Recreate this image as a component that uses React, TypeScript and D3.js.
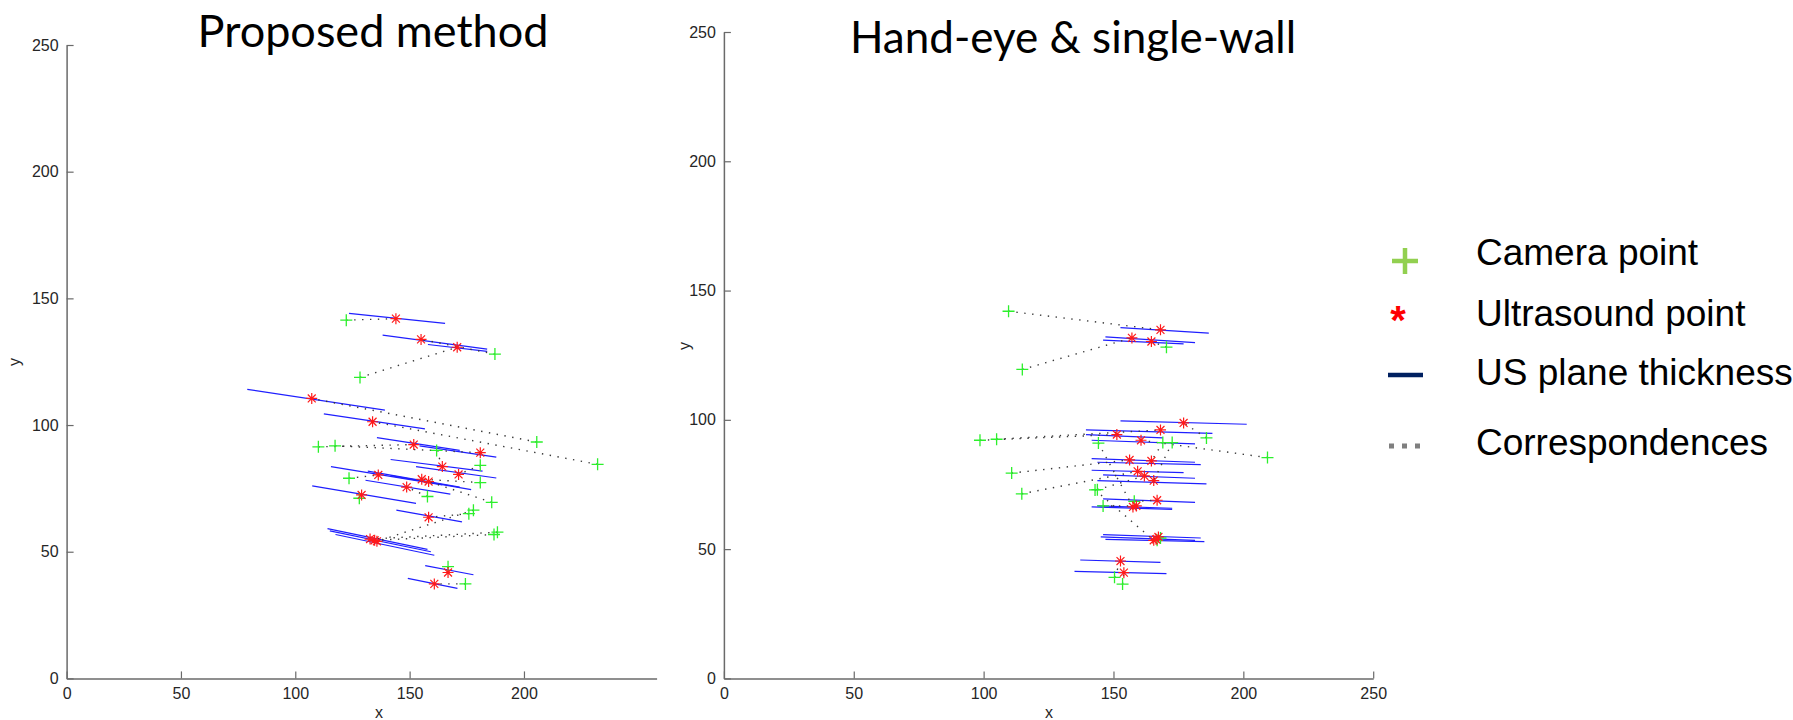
import React, { useEffect, useRef } from 'react';
import * as d3 from 'd3';

type Pt = [number, number];
type Seg = [number, number, number, number];

// ---- Proposed method ----
const leftCamera: Pt[] = [
  [122.3, 141.4], [187.3, 128], [128.3, 118.8], [205.6, 93.3], [232.2, 84.5],
  [110.1, 91.4], [117.4, 91.8], [161.8, 90.0], [180.9, 84.1], [123.5, 79.0],
  [180.9, 77.3], [185.9, 69.5], [157.8, 71.8], [128.0, 71.1], [175.9, 65.0],
  [188.4, 57.7], [186.9, 56.8], [177.9, 66.4], [166.8, 44.1], [174.4, 37.3],
];
const leftUltrasound: Pt[] = [
  [144, 142], [155, 133.8], [170.8, 130.7], [107.2, 110.5], [133.8, 101.3],
  [151.8, 92.3], [180.9, 89.1], [164.3, 83.6], [171.4, 80.5], [136.3, 80.3],
  [155.3, 78.6], [158.3, 77.7], [148.7, 75.5], [129, 72.4], [158.3, 63.6],
  [132.7, 55.0], [134.7, 54.5], [135.7, 54.1], [166.8, 41.8], [160.8, 37.3],
];
const leftPlanes: Seg[] = [
  [123.5, 144.1, 165.5, 140.1], [138.2, 135.5, 183.9, 130.0], [158, 131.8, 183.9, 129.1],
  [79, 114.1, 139.2, 105.9], [112.5, 104.4, 156.7, 98.5], [135.7, 95.0, 171.9, 90.0],
  [154.3, 91.8, 187.9, 87.3], [141.7, 86.4, 181.9, 81.8], [152.8, 83.6, 187.9, 79.1],
  [115.6, 83.6, 164.3, 76.4], [131.7, 81.8, 171.9, 75.5], [141.7, 80.0, 176.9, 74.5],
  [130.7, 78.2, 167.8, 72.7], [107.4, 76, 152.8, 69.1], [144.2, 66.4, 172.9, 61.8],
  [114.1, 59.1, 157.8, 50.9], [115.1, 58.2, 159.3, 50.0], [117.6, 56.8, 160.8, 48.6],
  [156.8, 44.5, 177.9, 40.9], [149.2, 39.5, 170.9, 35.5],
];

// ---- Hand-eye & single-wall ----
const rightCamera: Pt[] = [
  [109.6, 142.0], [114.9, 119.5], [170.4, 128.1], [185.8, 93.0], [209.3, 85.4],
  [98.6, 92.1], [105, 92.5], [110.8, 79.4], [114.7, 71.4], [169.0, 91.2],
  [143.8, 73.0], [172.6, 91.2], [158.0, 68.5], [146.0, 66.7], [166.8, 53.4],
  [168.1, 54.3], [142.9, 72.9], [150.4, 39.1], [153.5, 36.5], [144.2, 91.0],
];
const rightUltrasound: Pt[] = [
  [168.1, 134.8], [157.1, 131.7], [164.6, 130.3], [177.0, 98.8], [160.6, 92.1],
  [151.3, 94.3], [168.1, 96.1], [156.2, 84.5], [159.3, 80.1], [164.6, 84.1],
  [161.9, 78.3], [165.5, 76.5], [166.8, 68.9], [158.8, 66.7], [167.3, 54.7],
  [166.4, 53.8], [165.5, 53.4], [152.7, 45.4], [154.0, 40.9], [157.5, 66.3],
];
const rightPlanes: Seg[] = [
  [152.7, 135.7, 186.7, 133.5], [146.9, 132.1, 181.4, 129.9], [146.0, 130.8, 177.0, 129.4],
  [152.7, 99.6, 201.3, 98.3], [141.6, 92.1, 181.4, 90.7], [139.4, 94.3, 169.0, 93.0],
  [139.4, 96.1, 188.1, 94.8], [141.6, 85.0, 181.4, 83.6], [141.6, 80.5, 177.0, 79.6],
  [143.8, 83.6, 183.6, 82.7], [146.0, 78.7, 181.4, 77.4], [143.8, 76.5, 185.8, 75.2],
  [146.0, 69.4, 181.4, 68.1], [143.8, 66.7, 172.6, 65.8], [146.0, 55.6, 183.6, 54.3],
  [145.1, 54.7, 181.4, 53.4], [146.9, 53.8, 185.0, 52.9], [137.2, 45.8, 168.1, 44.9],
  [135.0, 41.4, 170.4, 40.5], [141.6, 66.3, 172.6, 65.4],
];

const leftXTicks = [0, 50, 100, 150, 200];
const rightXTicks = [0, 50, 100, 150, 200, 250];
const yTicks = [0, 50, 100, 150, 200, 250];
const legendLabels = ['Camera point', 'Ultrasound point', 'US plane thickness', 'Correspondences'];

const W = 1793;
const H = 720;
const tickFont = '"Liberation Sans", Arial, sans-serif';

interface Panel {
  title: string;
  titleX: number;
  titleY: number;
  titleSize: number;
  xDomain: [number, number];
  xRange: [number, number];
  yRange: [number, number];
  xTicks: number[];
  xLabelX: number;
  yLabelX: number;
  yLabelY: number;
  cam: Pt[];
  us: Pt[];
  planes: Seg[];
}

const panels: Panel[] = [
  {
    title: 'Proposed method', titleX: 373, titleY: 47, titleSize: 45,
    xDomain: [0, 258], xRange: [66.6, 656.6], yRange: [678.4, 45],
    xTicks: leftXTicks, xLabelX: 379, yLabelX: 20, yLabelY: 362,
    cam: leftCamera, us: leftUltrasound, planes: leftPlanes,
  },
  {
    title: 'Hand-eye & single-wall', titleX: 1073, titleY: 53, titleSize: 44,
    xDomain: [0, 250], xRange: [723.9, 1373.2], yRange: [678.4, 32],
    xTicks: rightXTicks, xLabelX: 1049, yLabelX: 690, yLabelY: 346,
    cam: rightCamera, us: rightUltrasound, planes: rightPlanes,
  },
];

function drawPanel(svg: d3.Selection<SVGSVGElement, unknown, null, undefined>, p: Panel) {
  const x = d3.scaleLinear().domain(p.xDomain).range(p.xRange);
  const y = d3.scaleLinear().domain([0, 250]).range(p.yRange);
  const g = svg.append('g');

  // axes (inward ticks, no box)
  const xa = g.append('g')
    .attr('transform', `translate(0,${p.yRange[0]})`)
    .call(d3.axisBottom(x).tickValues(p.xTicks).tickSizeInner(-7).tickSizeOuter(0).tickPadding(9));
  const ya = g.append('g')
    .attr('transform', `translate(${p.xRange[0]},0)`)
    .call(d3.axisLeft(y).tickValues(yTicks).tickSizeInner(-7).tickSizeOuter(0).tickPadding(8));
  [xa, ya].forEach(a => {
    a.select('.domain').attr('stroke', '#6a6a6a').attr('stroke-width', 1.5);
    a.selectAll('.tick line').attr('stroke', '#6a6a6a').attr('stroke-width', 1.2);
    a.selectAll('.tick text')
      .attr('fill', '#262626')
      .style('font-size', '16px')
      .style('font-family', tickFont);
  });

  // axis labels
  g.append('text')
    .attr('x', p.xLabelX).attr('y', 718)
    .attr('text-anchor', 'middle')
    .style('font-family', tickFont).style('font-size', '16px')
    .attr('fill', '#262626').text('x');
  g.append('text')
    .attr('transform', `translate(${p.yLabelX},${p.yLabelY}) rotate(-90)`)
    .attr('text-anchor', 'middle')
    .style('font-family', tickFont).style('font-size', '16px')
    .attr('fill', '#262626').text('y');

  // title
  g.append('text')
    .attr('x', p.titleX).attr('y', p.titleY)
    .attr('text-anchor', 'middle')
    .style('font-family', 'Lato, "Open Sans", sans-serif').style('font-size', `${p.titleSize}px`)
    .attr('fill', '#000').text(p.title);

  // US planes
  g.append('g').selectAll('line').data(p.planes).enter().append('line')
    .attr('x1', d => x(d[0])).attr('y1', d => y(d[1]))
    .attr('x2', d => x(d[2])).attr('y2', d => y(d[3]))
    .attr('stroke', '#1f1fff').attr('stroke-width', 1.2);

  // correspondences
  g.append('g').selectAll('line').data(p.cam).enter().append('line')
    .attr('x1', d => x(d[0])).attr('y1', d => y(d[1]))
    .attr('x2', (_, i) => x(p.us[i][0])).attr('y2', (_, i) => y(p.us[i][1]))
    .attr('stroke', '#3a3a3a').attr('stroke-width', 1.4)
    .attr('stroke-dasharray', '1.4 6.5');

  // camera points (+)
  const r = 6;
  g.append('g').selectAll('path').data(p.cam).enter().append('path')
    .attr('d', d => {
      const cx = x(d[0]), cy = y(d[1]);
      return `M${cx - r},${cy}H${cx + r}M${cx},${cy - r}V${cy + r}`;
    })
    .attr('stroke', '#2cf02c').attr('stroke-width', 1.3).attr('fill', 'none');

  // ultrasound points (*)
  const s = 5.5, q = s * 0.72;
  g.append('g').selectAll('path').data(p.us).enter().append('path')
    .attr('d', d => {
      const cx = x(d[0]), cy = y(d[1]);
      return `M${cx - s},${cy}H${cx + s}M${cx},${cy - s}V${cy + s}` +
        `M${cx - q},${cy - q}L${cx + q},${cy + q}M${cx - q},${cy + q}L${cx + q},${cy - q}`;
    })
    .attr('stroke', '#ff1a1a').attr('stroke-width', 1.2).attr('fill', 'none');
}

function drawLegend(svg: d3.Selection<SVGSVGElement, unknown, null, undefined>) {
  const g = svg.append('g');
  const baselines = [265, 326, 385, 455];
  const tx = 1476;
  g.selectAll('text.lab').data(legendLabels).enter().append('text')
    .attr('class', 'lab')
    .attr('x', tx).attr('y', (_, i) => baselines[i])
    .style('font-family', tickFont).style('font-size', '37px')
    .attr('fill', '#000').text(d => d);

  // camera symbol
  g.append('path')
    .attr('d', 'M1392,261H1418M1405,248V274')
    .attr('stroke', '#92d050').attr('stroke-width', 4.5);
  // ultrasound symbol
  g.append('text')
    .attr('x', 1398).attr('y', 334).attr('text-anchor', 'middle')
    .style('font-family', tickFont).style('font-size', '40px').style('font-weight', 'bold')
    .attr('fill', '#ff0000').text('*');
  // plane symbol
  g.append('line')
    .attr('x1', 1388).attr('x2', 1423).attr('y1', 375).attr('y2', 375)
    .attr('stroke', '#002060').attr('stroke-width', 4.5);
  // correspondence symbol
  g.append('line')
    .attr('x1', 1389).attr('x2', 1427).attr('y1', 446).attr('y2', 446)
    .attr('stroke', '#7f7f7f').attr('stroke-width', 5)
    .attr('stroke-dasharray', '5 8');
}

export default function App() {
  const ref = useRef<SVGSVGElement | null>(null);

  useEffect(() => {
    const svg = d3.select(ref.current as SVGSVGElement);
    svg.selectAll('*').remove();
    svg.append('rect').attr('width', W).attr('height', H).attr('fill', '#fff');
    panels.forEach(p => drawPanel(svg, p));
    drawLegend(svg);
  }, []);

  return (
    <svg
      ref={ref}
      width={W}
      height={H}
      style={{ position: 'absolute', left: 0, top: 0, background: '#fff' }}
    />
  );
}
